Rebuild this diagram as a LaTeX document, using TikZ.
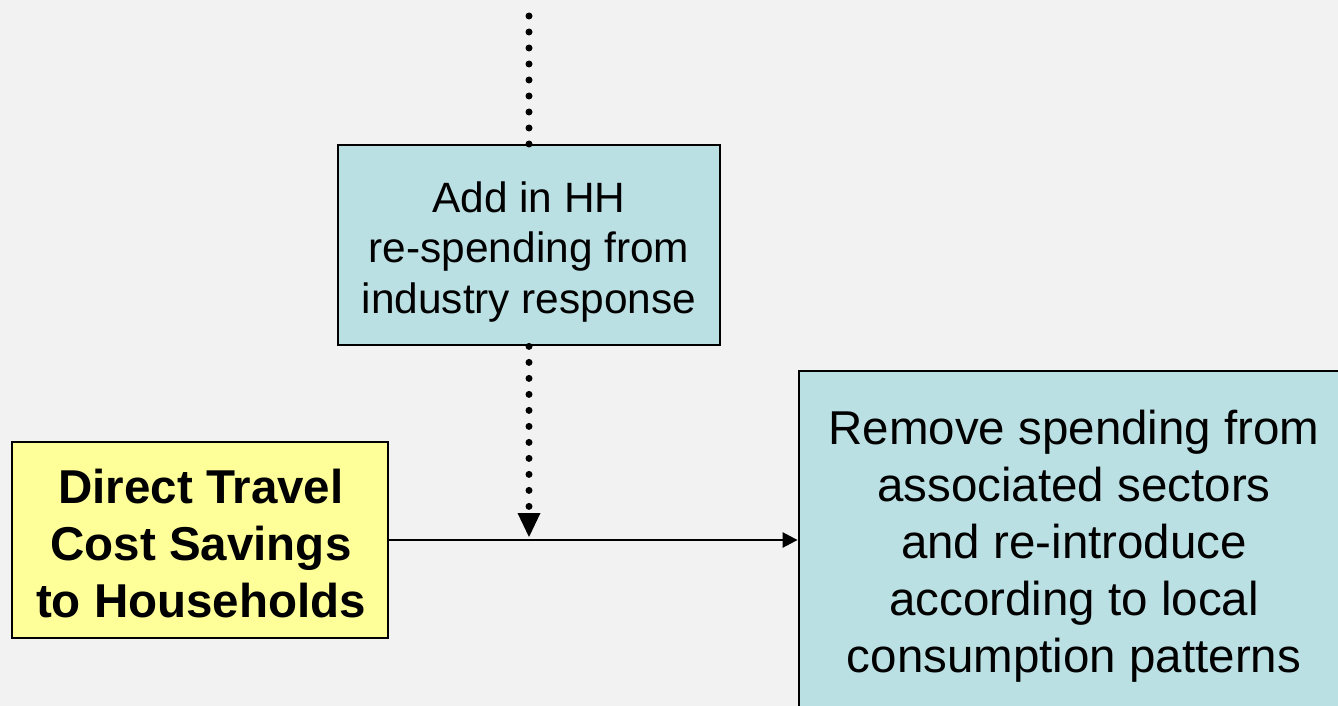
\documentclass[tikz,border=0pt]{standalone}
\usepackage{fontspec}
\setmainfont{Liberation Sans}
\usetikzlibrary{arrows.meta,calc}
\definecolor{bgc}{HTML}{F2F2F2}
\definecolor{boxblue}{HTML}{BBE0E3}
\definecolor{boxyellow}{HTML}{FFFF99}
\begin{document}
\begin{tikzpicture}[x=1pt,y=-1pt,
  box/.style={draw=black, line width=2.8pt, inner sep=0pt},
  txt/.style={align=center, inner sep=0pt, text=black},
  dotline/.style={line width=7pt, line cap=round, dash pattern=on 0pt off 16pt},
  conn/.style={line width=2.5pt, -{Triangle[length=15pt,width=15pt]}}
]
\useasboundingbox (0,0) rectangle (1338,706);
\fill[bgc] (0,0) rectangle (1338,706);
\begin{scope}
\clip (0,0) rectangle (1338,706);
\node[box, fill=boxblue, minimum width=382pt, minimum height=200pt] (hh) at (529,245) {};
\node[txt, font=\fontsize{42.4}{50.5}\selectfont] (hhtext) at (529,252)
  {Add in HH\\re-spending from\\industry response};
\node[box, fill=boxyellow, minimum width=376pt, minimum height=196pt] (direct) at (200,540) {};
\node[txt, font=\fontsize{47.5}{57}\selectfont\bfseries] (directtext) at (201,544)
  {Direct Travel\\Cost Savings\\to Households};
\node[box, fill=boxblue, minimum width=550pt, minimum height=344pt] (big) at (1074,543) {};
\node[txt, font=\fontsize{47.5}{57}\selectfont] (bigtext) at (1074,546)
  {Remove spending from\\associated sectors\\and re-introduce\\according to local\\consumption patterns};
\coordinate (src) at (529,16);
\coordinate (tip) at (529,537);
\draw[dotline] (src) -- ($(hh.north)+(0,2)$);
\draw[dotline] (hh.south) -- ($(tip)+(0,-30)$);
\draw[conn] (direct.east) -- (big.west |- direct.east);
\fill[black] (tip) -- ++(-11.5,-24) -- ++(23,0) -- cycle;
\end{scope}
\end{tikzpicture}
\end{document}
